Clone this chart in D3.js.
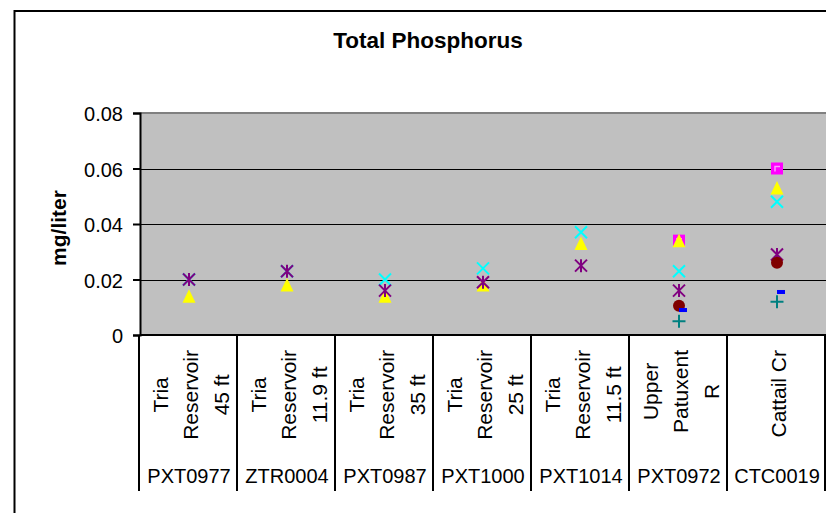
<!DOCTYPE html>
<html>
<head>
<meta charset="utf-8">
<script src="https://cdn.jsdelivr.net/npm/d3@7"></script>
<style>
  html, body { margin: 0; padding: 0; background: #ffffff; }
  svg { display: block; }
  text { font-family: Arial, "Liberation Sans", sans-serif; fill: #000; }
</style>
</head>
<body>
<svg id="chart" width="826" height="513"></svg>
<script>
// ---- data ----
const stationCodes = ["PXT0977", "ZTR0004", "PXT0987", "PXT1000", "PXT1014", "PXT0972", "CTC0019"];
const siteNames = [
  ["Tria", "Reservoir", "45 ft"],
  ["Tria", "Reservoir", "11.9 ft"],
  ["Tria", "Reservoir", "35 ft"],
  ["Tria", "Reservoir", "25 ft"],
  ["Tria", "Reservoir", "11.5 ft"],
  ["Upper", "Patuxent", "R"],
  ["Cattail Cr"]
];
const seriesSquare   = [null, null, null, null, null, 0.034, 0.060];
const seriesTriangle = [0.014, 0.018, 0.014, 0.018, 0.033, 0.034, 0.053];
const seriesX        = [0.020, 0.023, 0.020, 0.024, 0.037, 0.023, 0.048];
const seriesStar     = [0.020, 0.023, 0.016, 0.019, 0.025, 0.016, 0.029];
const seriesCircle   = [null, null, null, null, null, 0.0105, 0.026];
const seriesDash     = [null, null, null, null, null, 0.009, 0.0155];
const seriesPlus     = [null, null, null, null, null, 0.005, 0.012];
const yTickValues = [0, 0.02, 0.04, 0.06, 0.08];
const yTickLabels = ["0", "0.02", "0.04", "0.06", "0.08"];
const chartTitle = "Total Phosphorus";
const yAxisTitle = "mg/liter";

// ---- layout ----
const svg = d3.select("#chart");
const plotLeft = 140, plotRight = 826, plotTop = 113, plotBottom = 335;

const x = d3.scaleBand().domain(stationCodes).range([plotLeft, plotRight]).paddingInner(0).paddingOuter(0);
const y = d3.scaleLinear().domain([0, 0.08]).range([plotBottom, plotTop]);

// outer chart border
svg.append("rect").attr("x", 14.5).attr("y", 11).attr("width", 900).attr("height", 600)
  .attr("fill", "#fff").attr("stroke", "#000").attr("stroke-width", 2);

// plot area
svg.append("rect").attr("x", plotLeft).attr("y", plotTop)
  .attr("width", 700).attr("height", plotBottom - plotTop)
  .attr("fill", "#C0C0C0");
svg.append("line").attr("x1", plotLeft).attr("x2", 840).attr("y1", plotTop).attr("y2", plotTop)
  .attr("stroke", "#808080").attr("stroke-width", 2);

// gridlines
svg.append("g").selectAll("line").data(yTickValues.filter(v => v > 0 && v < 0.08)).join("line")
  .attr("x1", plotLeft).attr("x2", 840)
  .attr("y1", d => Math.round(y(d)) + 0.5).attr("y2", d => Math.round(y(d)) + 0.5)
  .attr("stroke", "#000").attr("stroke-width", 1);

// y axis
const yAxis = d3.axisLeft(y).tickValues(yTickValues)
  .tickFormat((d, i) => yTickLabels[i]).tickSize(7).tickPadding(10);
const gy = svg.append("g").attr("transform", `translate(${plotLeft},0)`).call(yAxis);
gy.select(".domain").attr("stroke", "#000").attr("stroke-width", 2);
gy.selectAll(".tick line").attr("stroke", "#000").attr("stroke-width", 2);
gy.selectAll(".tick text").attr("font-size", "20px").attr("font-family", "Arial, 'Liberation Sans', sans-serif")
  .attr("fill", "#000").attr("dy", "0.38em");

// x axis baseline
svg.append("line").attr("x1", plotLeft).attr("x2", 840).attr("y1", plotBottom).attr("y2", plotBottom)
  .attr("stroke", "#000").attr("stroke-width", 2);

// category separators
const bounds = stationCodes.map(c => x(c)).concat([x(stationCodes[stationCodes.length - 1]) + x.bandwidth()]);
svg.append("g").selectAll("line").data(bounds).join("line")
  .attr("x1", d => d - 1).attr("x2", d => d - 1)
  .attr("y1", plotBottom).attr("y2", 491)
  .attr("stroke", "#000").attr("stroke-width", 2);

// inner (rotated) site labels
const labelTop = 350;
const lineOffsets = { 1: [0], 2: [-15, 15], 3: [-30, 0, 31] };
stationCodes.forEach((code, i) => {
  const cx = x(code) + x.bandwidth() / 2 + 1;
  const lines = siteNames[i];
  const g = svg.append("g");
  const texts = lines.map((ln, j) => g.append("text").text(ln)
    .attr("font-size", "21px").attr("text-anchor", "middle")
    .attr("dominant-baseline", "central"));
  const maxLen = d3.max(texts, t => t.node().getComputedTextLength());
  const yc = labelTop + maxLen / 2;
  texts.forEach((t, j) => {
    const xx = cx + lineOffsets[lines.length][j];
    t.attr("transform", `translate(${xx},${yc}) rotate(-90)`);
  });
});

// outer station code labels
svg.append("g").selectAll("text").data(stationCodes).join("text")
  .attr("x", d => x(d) + x.bandwidth() / 2)
  .attr("y", 483)
  .attr("text-anchor", "middle").attr("font-size", "20px")
  .text(d => d);

// title
svg.append("text").attr("x", 428).attr("y", 48).attr("text-anchor", "middle")
  .attr("font-size", "22.5px").attr("font-weight", "bold").text(chartTitle);

// y axis title
svg.append("text").attr("transform", "translate(58,228) rotate(-90)")
  .attr("text-anchor", "middle").attr("dominant-baseline", "central")
  .attr("font-size", "21px").attr("font-weight", "bold").text(yAxisTitle);

// ---- markers ----
const cxOf = i => x(stationCodes[i]) + x.bandwidth() / 2;
const gm = svg.append("g");
function pts(arr) { return arr.map((v, i) => ({ v, i })).filter(d => d.v !== null); }

// magenta square
const sq = gm.append("g").selectAll("g").data(pts(seriesSquare)).join("g")
  .attr("transform", d => `translate(${cxOf(d.i)},${y(d.v)})`);
sq.append("rect").attr("x", -6).attr("y", -6).attr("width", 12).attr("height", 12).attr("fill", "#FF00FF");
sq.append("path").attr("d", "M-2,3 V-2 H3").attr("fill", "none").attr("stroke", "#FF99FF").attr("stroke-width", 1.5);

// yellow triangle
gm.append("g").selectAll("path").data(pts(seriesTriangle)).join("path")
  .attr("transform", d => `translate(${cxOf(d.i)},${y(d.v)})`)
  .attr("d", "M0,-7 L6.5,6.5 L-6.5,6.5 Z").attr("fill", "#FFFF00");

// cyan X
gm.append("g").selectAll("path").data(pts(seriesX)).join("path")
  .attr("transform", d => `translate(${cxOf(d.i)},${y(d.v)})`)
  .attr("d", "M-6,-6 L6,6 M6,-6 L-6,6").attr("stroke", "#00FFFF").attr("stroke-width", 2).attr("fill", "none");

// purple asterisk
gm.append("g").selectAll("path").data(pts(seriesStar)).join("path")
  .attr("transform", d => `translate(${cxOf(d.i)},${y(d.v)})`)
  .attr("d", "M-6,-6 L6,6 M6,-6 L-6,6 M0,-6.5 V6.5").attr("stroke", "#800080").attr("stroke-width", 2).attr("fill", "none");

// maroon circle
gm.append("g").selectAll("circle").data(pts(seriesCircle)).join("circle")
  .attr("cx", d => cxOf(d.i)).attr("cy", d => y(d.v)).attr("r", 6).attr("fill", "#800000");

// blue dash
gm.append("g").selectAll("rect").data(pts(seriesDash)).join("rect")
  .attr("x", d => cxOf(d.i)).attr("y", d => y(d.v) - 2).attr("width", 8).attr("height", 4).attr("fill", "#0000FF");

// teal plus
gm.append("g").selectAll("path").data(pts(seriesPlus)).join("path")
  .attr("transform", d => `translate(${cxOf(d.i)},${y(d.v)})`)
  .attr("d", "M-6.5,0 H6.5 M0,-6.5 V6.5").attr("stroke", "#008080").attr("stroke-width", 2).attr("fill", "none");
</script>
</body>
</html>
